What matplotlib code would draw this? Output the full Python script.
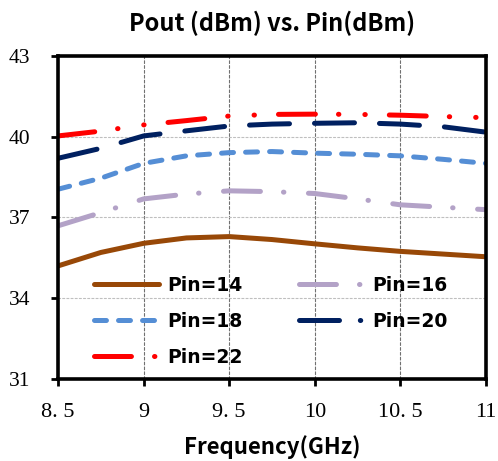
import matplotlib.pyplot as plt
from matplotlib.lines import Line2D

# Output power vs. frequency for each input drive level
freq = [8.5, 8.75, 9.0, 9.25, 9.5, 9.75, 10.0, 10.25, 10.5, 10.75, 11.0]
pin14 = [35.20, 35.70, 36.04, 36.24, 36.29, 36.18, 36.02, 35.87, 35.74, 35.64, 35.54]
pin16 = [36.69, 37.18, 37.69, 37.87, 37.99, 37.96, 37.89, 37.69, 37.47, 37.38, 37.29]
pin18 = [38.05, 38.46, 39.01, 39.29, 39.41, 39.45, 39.39, 39.35, 39.29, 39.16, 39.01]
pin20 = [39.20, 39.57, 40.03, 40.22, 40.40, 40.47, 40.50, 40.52, 40.47, 40.37, 40.17]
pin22 = [40.03, 40.21, 40.44, 40.60, 40.77, 40.83, 40.84, 40.83, 40.80, 40.75, 40.71]
labels = ["Pin=14", "Pin=16", "Pin=18", "Pin=20", "Pin=22"]

xticks = [8.5, 9, 9.5, 10, 10.5, 11]
xticklabels = ["8. 5", "9", "9. 5", "10", "10. 5", "11"]
yticks = [31, 34, 37, 40, 43]

plt.rcParams["lines.scale_dashes"] = False
plt.rcParams["lines.dash_capstyle"] = "round"
plt.rcParams["lines.solid_capstyle"] = "round"

cjk = ["Noto Sans CJK SC", "DejaVu Sans"]
serif = ["Liberation Serif", "DejaVu Serif"]
LW = 3.6

# dash patterns in points
styles = [
    dict(color="#984807", ls="-"),
    dict(color="#B3A2C7", ls=(0, (26.6, 16.6, 0.3, 17.7))),
    dict(color="#558ED5", ls=(0, (8.6, 8.7))),
    dict(color="#002060", ls=(0, (28.8, 18))),
    dict(color="#FF0000", ls=(0, (26.6, 16.6, 0.3, 18.7, 0.3, 17.3))),
]
series = [pin14, pin16, pin18, pin20, pin22]

fig = plt.figure(figsize=(4.98, 4.61), dpi=100)
ax = fig.add_axes([0.1165, 0.178, 0.8595, 0.7005])

for ys, st in zip(series, styles):
    ax.plot(freq, ys, lw=LW, color=st["color"], linestyle=st["ls"])

ax.set_xlim(8.5, 11)
ax.set_ylim(31, 43)
ax.set_xticks(xticks)
ax.set_xticklabels(xticklabels, family=serif, fontsize=16)
ax.set_yticks(yticks)
ax.set_yticklabels([str(v) for v in yticks], family=serif, fontsize=15.5)
ax.tick_params(axis="x", direction="out", length=5, width=2, pad=12, color="black")
ax.tick_params(axis="y", direction="out", length=5, width=2, pad=15, color="black")

ax.grid(axis="x", color="#707070", ls=(0, (2, 1.5)), lw=0.8)
ax.grid(axis="y", color="#BFBFBF", ls=(0, (1.5, 1.5)), lw=0.8)
ax.set_axisbelow(True)
for sp in ax.spines.values():
    sp.set_linewidth(2.6)
    sp.set_color("black")

ax.set_title("Pout (dBm) vs. Pin(dBm)", family=cjk, fontweight="bold",
             fontsize=17, pad=18)
ax.set_xlabel("Frequency(GHz)", family=cjk, fontweight="bold", fontsize=16,
              labelpad=10)

# legend handles: Pin=20 shows a dot after its dash in the key
handle_ls = [
    "-",
    (0, (26.6, 16.6, 0.3, 30)),
    (0, (8.6, 8.7)),
    (0, (28.8, 15.0, 0.3, 30)),
    (0, (26.6, 16.6, 0.3, 30)),
]
handles = [Line2D([], [], lw=LW, color=st["color"], linestyle=hl)
           for st, hl in zip(styles, handle_ls)]
order = [0, 2, 4, 1, 3]
leg = ax.legend([handles[i] for i in order], [labels[i] for i in order],
                ncol=2, loc="upper left", bbox_to_anchor=(0.085, 0.32),
                frameon=False, borderpad=0, borderaxespad=0,
                handlelength=3.45, handletextpad=0.45, columnspacing=3.0,
                labelspacing=0.91,
                prop=dict(family="DejaVu Sans", weight="bold", size=13.5))

fig.savefig("out.png", dpi=100)
